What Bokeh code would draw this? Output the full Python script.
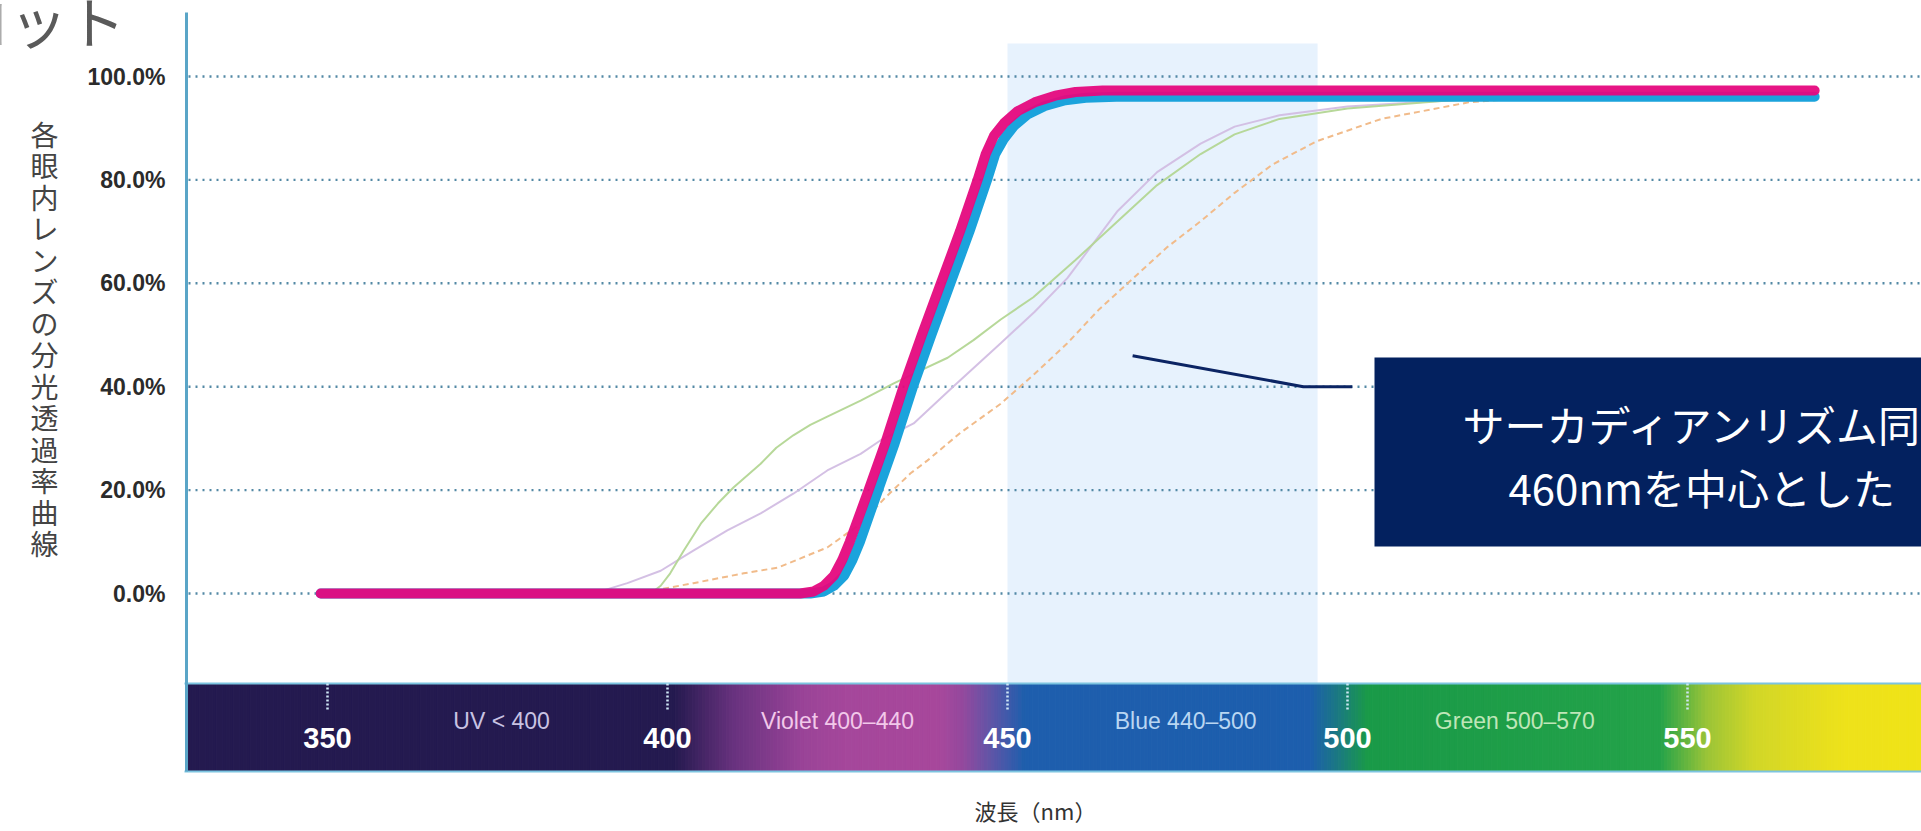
import numpy as np
from bokeh.plotting import figure
from bokeh.models import Range1d
from bokeh.core.properties import value
from bokeh.embed import file_html
from bokeh.resources import INLINE

# ---------------- data ----------------
# thick curves (magenta on top of cyan)
pink_nm = [349, 400, 419.5, 421.5, 423.0, 424.5, 425.7, 426.8, 429.3, 432.0, 434.7, 437.4, 440.2,
           443.0, 445.6, 446.8, 448.0, 449.5, 451.5, 454.0, 457.0, 460.0, 464.0, 520.0, 568.7]
pink_pct = [0, 0, 0, 0.4, 1.5, 3.5, 6.5, 10, 19, 29, 40, 50, 60,
            70, 80, 85, 88.5, 91, 93.3, 95, 96.3, 97, 97.3, 97.3, 97.3]

cyan_nm = [349, 400, 421.0, 423.0, 424.5, 426.0, 427.2, 428.3, 430.7, 433.4, 436.1, 438.8, 441.6,
           444.4, 447.0, 448.2, 449.5, 451.0, 453.0, 455.5, 458.5, 461.5, 466.0, 520.0, 568.7]
cyan_pct = [0, 0, 0, 0.4, 1.5, 3.5, 6.5, 10, 19, 29, 40, 50, 60,
            70, 80, 85, 88, 90.5, 92.7, 94.3, 95.4, 95.9, 96.1, 96.1, 96.1]

# thin comparison curves
green_nm = [397.5, 399.0, 400.4, 402.4, 404.9, 407.4, 409.7, 413.7, 416.0, 418.5, 421.0, 423.5, 428.4,
            433.2, 437.0, 441.2, 445.0, 449.0, 453.8, 460.0, 466.2, 472.0, 478.4, 483.4, 490.0, 500.0,
            514.3, 525.0, 535.0]
green_pct = [0, 1.5, 3.9, 8.3, 13.5, 17.4, 20.5, 25.1, 28.2, 30.6, 32.6, 34.2, 37.3,
             40.6, 43.0, 45.6, 49.0, 53.0, 57.3, 64.5, 72.0, 79.0, 85.0, 88.8, 91.8, 93.8,
             95.3, 96.0, 96.2]

lavender_nm = [388, 390.6, 394.1, 399.0, 403.8, 408.8, 413.7, 418.5, 423.5, 428.4, 431.3, 436.2,
               442.0, 449.0, 454.0, 458.8, 466.2, 472.0, 478.4, 483.4, 490.0, 500.0, 517.8, 530.0]
lavender_pct = [0, 0.6, 2.0, 4.4, 8.3, 12.2, 15.5, 19.3, 23.8, 27.0, 29.6, 32.9,
                40.0, 48.4, 54.5, 61.0, 74.0, 81.5, 87.0, 90.3, 92.5, 94.2, 95.6, 96.2]

orange_nm = [395, 396.5, 403.8, 411.2, 416.2, 423.5, 428.4, 432.0, 435.7, 438.2, 443.0, 449.0,
             454.0, 458.8, 463.5, 468.5, 473.5, 478.4, 483.4, 489.0, 495.5, 505.0, 517.8, 530.0]
orange_pct = [0, 0.2, 2.0, 3.9, 5.0, 8.9, 13.5, 18.5, 23.2, 25.7, 31.0, 36.7,
              42.5, 48.4, 55.0, 61.0, 67.0, 72.0, 77.5, 83.0, 87.5, 91.8, 95.0, 96.2]

# axes / labels
x_ticks = [350, 400, 450, 500, 550]
y_ticks = [0, 20, 40, 60, 80, 100]
band_names = ["UV < 400", "Violet 400\u2013440", "Blue 440\u2013500", "Green 500\u2013570"]
band_centers = [375.6, 425.0, 476.2, 524.6]
band_text_colors = ["#c9c3e3", "#f2c8ea", "#b9d6f2", "#bfe6b8"]
spectrum_stop_nm = [300, 401, 410, 420, 426, 440, 443.5, 448, 452.5, 494.5, 499, 503, 546, 553, 560, 573, 600]
spectrum_stop_col = ["#241a4f", "#251a4f", "#6a3380", "#9a4498", "#a5479b", "#a8489c", "#94499e", "#5b56a8",
                     "#1f5fad", "#1d5eae", "#1b7c7e", "#1a9a48", "#24a34a", "#9cc537", "#d2d728", "#eee21b", "#f3e612"]
highlight_nm = [450.0, 495.6]
highlight_top_pct = 106.4
callout_nm = [468.4, 493.5, 500.7]
callout_pct = [46.0, 40.0, 40.0]

x_title = "波長（nm）"
y_title = "各眼内レンズの分光透過率曲線"
note_lines = ["サーカディアンリズム同調", "460nmを中心とした"]
header = "プロット"

# ---------------- layout (whole canvas is the frame) ----------------
W, H = 1921, 831
PX_NM, PX_PCT = 6.8, 5.17
X350 = 327          # canvas x of 350 nm
Y0 = 593            # canvas y of 0 %
x_start = 350 - X350 / PX_NM
x_end = x_start + W / PX_NM
y_end = Y0 / PX_PCT
y_start = (Y0 - H) / PX_PCT


def dx(px):
    return x_start + px / PX_NM


def dy(py):
    return (Y0 - py) / PX_PCT


AXIS_X = dx(186)
band_top = dy(683)
band_bottom = dy(771)

p = figure(width=W, height=H, x_range=Range1d(x_start, x_end), y_range=Range1d(y_start, y_end),
           output_backend="svg", toolbar_location=None,
           x_axis_location=None, y_axis_location=None,
           min_border=0, min_border_left=0, min_border_right=0, min_border_top=0, min_border_bottom=0)
p.title.visible = False
p.outline_line_color = None
p.background_fill_color = "white"
p.border_fill_color = "white"
p.grid.visible = False

# highlight (blue-light region)
p.quad(left=[highlight_nm[0]], right=[highlight_nm[1]], top=[highlight_top_pct], bottom=[band_top],
       fill_color="#e7f2fd", line_color=None)

# dotted horizontal gridlines
p.segment(x0=[dx(188)] * len(y_ticks), y0=y_ticks, x1=[x_end] * len(y_ticks), y1=y_ticks,
          line_color="#4a83a0", line_width=2.4, line_dash="2 5", line_alpha=0.95)

# y tick labels
p.text(x=[dx(165)] * len(y_ticks), y=y_ticks, text=["%.1f%%" % t for t in y_ticks],
       text_align="right", text_baseline="middle", text_font=value("Liberation Sans"),
       text_font_style="bold", text_font_size="23px", text_color="#2b2b2b")

# spectrum bar
def hex2rgb(h):
    return np.array([int(h[i:i + 2], 16) for i in (1, 3, 5)], dtype=float)


stop_rgb = np.array([hex2rgb(c) for c in spectrum_stop_col])
lefts = np.arange(dx(185), x_end, 0.5)
mids = lefts + 0.25
cols = []
for m in mids:
    r = np.interp(m, spectrum_stop_nm, stop_rgb[:, 0])
    g = np.interp(m, spectrum_stop_nm, stop_rgb[:, 1])
    b = np.interp(m, spectrum_stop_nm, stop_rgb[:, 2])
    cols.append("#%02x%02x%02x" % (int(r), int(g), int(b)))
p.quad(left=lefts, right=lefts + 0.5, top=band_top, bottom=band_bottom,
       fill_color=cols, line_color=cols, line_width=1)
p.segment(x0=[dx(184), dx(184)], y0=[band_top, band_bottom], x1=[x_end, x_end], y1=[band_top, band_bottom],
          line_color="#7cc4e0", line_width=2)

# y axis line
p.segment(x0=[AXIS_X], y0=[dy(12)], x1=[AXIS_X], y1=[band_bottom], line_color="#5aa5c7", line_width=3)

# dotted tick marks inside the bar + labels
p.segment(x0=x_ticks, y0=[band_top] * len(x_ticks), x1=x_ticks, y1=[dy(711)] * len(x_ticks),
          line_color="#cfe7f6", line_width=2.5, line_dash="2 2")
p.text(x=x_ticks, y=[dy(737)] * len(x_ticks), text=[str(t) for t in x_ticks],
       text_align="center", text_baseline="middle", text_font=value("Liberation Sans"),
       text_font_style="bold", text_font_size="29px", text_color="white")
p.text(x=band_centers, y=[dy(720)] * len(band_names), text=band_names,
       text_align="center", text_baseline="middle", text_font=value("Liberation Sans"),
       text_font_size="23px", text_color=band_text_colors)

# thin curves
p.line(lavender_nm, lavender_pct, line_color="#d2bde3", line_width=2, line_alpha=0.95)
p.line(green_nm, green_pct, line_color="#b3d693", line_width=2, line_alpha=0.95)
p.line(orange_nm, orange_pct, line_color="#f1bb8a", line_width=2, line_dash="6 4")

# thick curves
p.line(cyan_nm, cyan_pct, line_color="#1ba3dc", line_width=10, line_cap="round", line_join="round")
p.line(pink_nm, pink_pct, line_color="#e5087e", line_width=10, line_cap="round", line_join="round",
       line_alpha=0.95)

# callout
p.line(callout_nm, callout_pct, line_color="#0b2463", line_width=3)
p.quad(left=[dx(1374)], right=[x_end + 5], top=[dy(357)], bottom=[dy(546)],
       fill_color="#03215f", line_color=None)
p.text(x=[dx(1462), dx(1508)], y=[dy(423), dy(486)], text=note_lines,
       text_align="left", text_baseline="middle", text_font=value("Noto Sans CJK JP"),
       text_font_size="42px", text_color="white")

# axis titles
p.text(x=[dx(1035)], y=[dy(809)], text=[x_title], text_align="center", text_baseline="middle",
       text_font=value("Noto Sans CJK JP"), text_font_size="22px", text_color="#333333")
p.text(x=[dx(44)] * len(y_title), y=[dy(133 + 31.5 * i) for i in range(len(y_title))],
       text=list(y_title), text_align="center", text_baseline="middle",
       text_font=value("Noto Sans CJK JP"), text_font_size="28px", text_color="#444444")

# clipped header at the top-left
p.text(x=[dx(125)], y=[dy(-24)], text=[header], text_align="right", text_baseline="top",
       text_font=value("Noto Sans CJK JP"), text_font_size="58px", text_color="#5a5a5a")

open("out.html", "w").write(file_html(p, INLINE))
